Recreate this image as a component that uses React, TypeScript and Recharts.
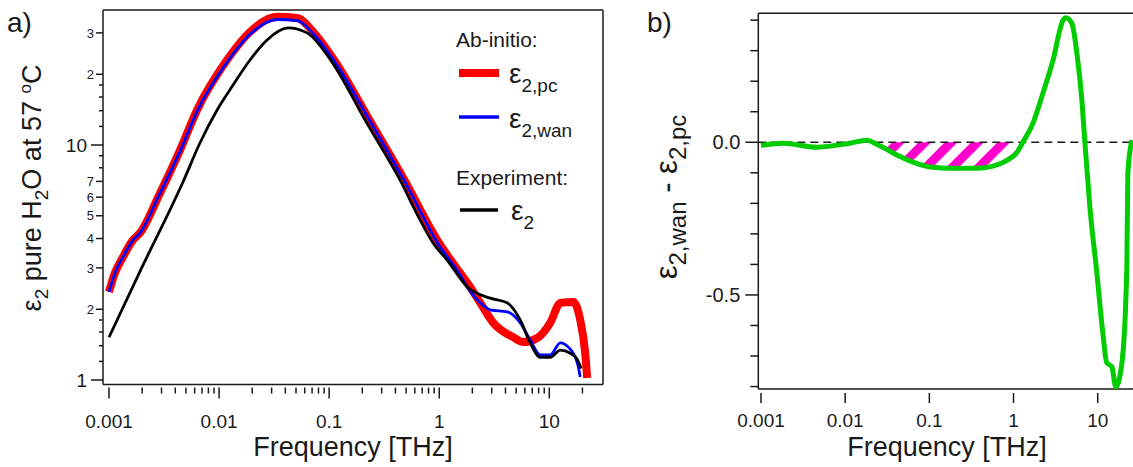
import React from 'react';
import { LineChart, ComposedChart, Line, Area, XAxis, YAxis, ReferenceLine } from 'recharts';

// panel a) — log/log, THz vs eps2
const expFreq = [0.001, 0.0019, 0.0047, 0.0067, 0.0096, 0.0134, 0.0191, 0.0273, 0.0424, 0.063, 0.1, 0.22, 0.44, 0.67, 0.88, 1.18, 1.8, 2.91, 4.15, 5.45, 6.71, 8.28, 10.2, 12.6, 15.5, 18.0, 19.5];
const expEps = [1.52, 2.88, 6.96, 10.2, 14.1, 18.0, 23.0, 28.0, 31.5, 30.0, 23.5, 12.4, 7.1, 4.8, 3.83, 3.24, 2.49, 2.23, 2.13, 1.8, 1.44, 1.25, 1.25, 1.34, 1.3, 1.22, 1.12];

const pcFreq = [0.001, 0.00113, 0.00134, 0.00165, 0.00191, 0.00291, 0.00442, 0.00631, 0.0118, 0.0191, 0.0337, 0.0512, 0.0716, 0.111, 0.241, 0.482, 0.959, 1.55, 1.91, 2.36, 3.1, 4.71, 5.8, 7.78, 10.2, 12.6, 16.5, 19.1, 21.2, 22.1];
const pcEps = [2.37, 2.85, 3.34, 3.94, 4.22, 6.25, 9.52, 14.1, 23.0, 30.3, 35.1, 34.7, 30.3, 23.0, 12.4, 7.1, 3.94, 2.85, 2.49, 2.13, 1.75, 1.52, 1.45, 1.51, 1.75, 2.13, 2.15, 1.8, 1.3, 1.02];

const wanFreq = [0.001, 0.00113, 0.00134, 0.00165, 0.00191, 0.00291, 0.00442, 0.00631, 0.0118, 0.0191, 0.0337, 0.0512, 0.0716, 0.111, 0.241, 0.482, 0.959, 1.55, 1.8, 2.36, 2.91, 4.15, 5.45, 6.71, 8.28, 10.2, 12.6, 14.9, 18.0, 19.1];
const wanEps = [2.37, 2.85, 3.34, 3.94, 4.22, 6.25, 9.4, 13.9, 22.5, 29.6, 34.2, 33.8, 29.8, 22.8, 12.4, 7.05, 3.85, 2.8, 2.49, 2.13, 1.99, 1.95, 1.75, 1.48, 1.28, 1.28, 1.44, 1.38, 1.18, 1.03];

// panel b) — eps2,wan - eps2,pc
const diffFreq = [0.001, 0.00182, 0.00462, 0.0114, 0.0182, 0.0239, 0.0281, 0.0412, 0.0638, 0.11, 0.176, 0.367, 0.569, 0.835, 1.1, 1.29, 1.7, 2.23, 2.94, 3.86, 4.19, 4.94, 5.66, 6.49, 7.05, 8.07, 9.77, 11.5, 12.8, 14.7, 16.4, 19.4, 22.2, 22.8, 25.5];
const diffVal = [-0.01, -0.003, -0.016, -0.003, 0.007, -0.007, -0.016, -0.042, -0.065, -0.082, -0.085, -0.085, -0.078, -0.059, -0.033, 0, 0.062, 0.16, 0.268, 0.399, 0.408, 0.389, 0.291, 0.137, -0.003, -0.212, -0.428, -0.624, -0.722, -0.735, -0.801, -0.722, -0.408, -0.101, 0.007];
const hatchRange = [0.028, 1.29];

const xMajorA = [0.001, 0.01, 0.1, 1, 10];
const yLabeledA = [1, 2, 3, 4, 5, 6, 7, 10, 20, 30];
const yMinorA = [1.2, 1.4, 1.6, 1.8, 8, 9, 12, 14, 16, 18];
const xTicksB = [0.001, 0.01, 0.1, 1, 10];
const yTicksB = [-0.8, -0.7, -0.6, -0.5, -0.4, -0.3, -0.2, -0.1, 0, 0.1, 0.2, 0.3, 0.4];
const yLabeledB = [0, -0.5];

const FONT = 'Arial, "Liberation Sans", Helvetica, sans-serif';
const INK = '#1a1a1a';

const xDomA: [number, number] = [10 ** -3.0545, 10 ** 1.488];
const yDomA: [number, number] = [10 ** -0.0191, 10 ** 1.5745];
const xDomB: [number, number] = [10 ** -3.032, 10 ** 1.443];
const yDomB: [number, number] = [-0.808, 0.4224];

const isPow10 = (v: number) => Math.abs(Math.log10(v) - Math.round(Math.log10(v))) < 1e-6;

const xTicksA = xMajorA.flatMap((d) => [1, 2, 3, 4, 5, 6, 7, 8, 9].map((m) => +(m * d).toPrecision(3))).filter((v) => v <= 20);

const rowsA = [
  ...expFreq.map((f, i) => ({ f, exp: expEps[i] })),
  ...pcFreq.map((f, i) => ({ f, pc: pcEps[i] })),
  ...wanFreq.map((f, i) => ({ f, wan: wanEps[i] })),
].sort((a, b) => a.f - b.f);

const rowsB = diffFreq.map((f, i) => ({
  f,
  d: diffVal[i],
  h: f >= hatchRange[0] && f <= hatchRange[1] ? diffVal[i] : null,
}));

const XTickA = (props: any) => {
  const { x, y, payload } = props;
  const major = isPow10(payload.value);
  return (
    <g>
      <line x1={x} x2={x} y1={y + 3} y2={y + (major ? 14 : 9)} stroke={INK} strokeWidth={1.5} />
      {major && (
        <text x={x} y={y + 43} textAnchor="middle" fontFamily={FONT} fontSize={19} fill={INK}>
          {String(payload.value)}
        </text>
      )}
    </g>
  );
};

const YTickA = (props: any) => {
  const { x, y, payload } = props;
  const v = payload.value;
  const major = isPow10(v);
  const labeled = yLabeledA.includes(v);
  const len = major ? 12 : labeled ? 7 : 4;
  const txt = major ? String(v) : String(v >= 10 ? v / 10 : v);
  return (
    <g>
      <line x1={x} x2={x - len} y1={y} y2={y} stroke={INK} strokeWidth={1.5} />
      {labeled && (
        <text x={x - (major ? 16 : 9)} y={y} dy="0.36em" textAnchor="end" fontFamily={FONT} fontSize={major ? 19 : 13} fill={INK}>
          {txt}
        </text>
      )}
    </g>
  );
};

const XTickB = (props: any) => {
  const { x, y, payload } = props;
  return (
    <g>
      <line x1={x} x2={x} y1={y + 4} y2={y + 14} stroke={INK} strokeWidth={1.5} />
      <text x={x} y={y + 38} textAnchor="middle" fontFamily={FONT} fontSize={19} fill={INK}>
        {String(payload.value)}
      </text>
    </g>
  );
};

const YTickB = (props: any) => {
  const { x, y, payload } = props;
  const v = payload.value;
  const labeled = yLabeledB.some((t) => Math.abs(t - v) < 1e-9);
  return (
    <g>
      <line x1={x} x2={x - (labeled ? 13 : 8)} y1={y} y2={y} stroke={INK} strokeWidth={1.5} />
      {labeled && (
        <text x={x - 18} y={y} dy="0.36em" textAnchor="end" fontFamily={FONT} fontSize={20} fill={INK}>
          {v.toFixed(1)}
        </text>
      )}
    </g>
  );
};

const Eps = ({ x, y, sub, size = 28, subSize = 19 }: { x: number; y: number; sub: string; size?: number; subSize?: number }) => (
  <text x={x} y={y} fontFamily={FONT} fill={INK} fontSize={size}>
    ε
    <tspan fontSize={subSize} dy={9}>
      {sub}
    </tspan>
  </text>
);

const frame = { stroke: INK, strokeWidth: 1.5 };

export default function App() {
  return (
    <div style={{ position: 'fixed', left: 0, top: 0, width: 1133, height: 467, overflow: 'hidden', background: '#fff' }}>
      <div style={{ position: 'absolute', left: 0, top: 0 }}>
        <LineChart width={620} height={467} data={rowsA} margin={{ top: 10, right: 17, bottom: 52.5, left: 0 }}>
          <XAxis
            dataKey="f"
            type="number"
            scale="log"
            domain={xDomA}
            allowDataOverflow
            ticks={xTicksA}
            interval={0}
            tick={XTickA}
            tickLine={false}
            axisLine={false}
            tickSize={0}
            tickMargin={0}
            height={30}
          />
          <YAxis
            type="number"
            scale="log"
            domain={yDomA}
            allowDataOverflow
            ticks={[...yLabeledA, ...yMinorA].sort((a, b) => a - b)}
            interval={0}
            tick={YTickA}
            tickLine={false}
            axisLine={frame}
            tickSize={0}
            tickMargin={0}
            width={103}
          />
          <ReferenceLine y={yDomA[1]} {...frame} ifOverflow="visible" />
          <ReferenceLine y={yDomA[0]} {...frame} ifOverflow="visible" />
          <ReferenceLine x={xDomA[1]} {...frame} ifOverflow="visible" />
          <Line dataKey="pc" type="monotone" stroke="#ff0000" strokeWidth={8} dot={false} connectNulls isAnimationActive={false} />
          <Line dataKey="wan" type="monotone" stroke="#0000ff" strokeWidth={2.8} dot={false} connectNulls isAnimationActive={false} />
          <Line dataKey="exp" type="monotone" stroke="#000000" strokeWidth={2.8} dot={false} connectNulls isAnimationActive={false} />
        </LineChart>
      </div>

      <div style={{ position: 'absolute', left: 640, top: 0 }}>
        <ComposedChart width={500} height={467} data={rowsB} margin={{ top: 13.3, right: 5, bottom: 48, left: 0 }}>
          <defs>
            <pattern id="hatch" patternUnits="userSpaceOnUse" width={18.6} height={18.6} patternTransform="rotate(45)">
              <rect x={0} y={0} width={9} height={18.6} fill="#ff00cc" />
            </pattern>
          </defs>
          <XAxis
            dataKey="f"
            type="number"
            scale="log"
            domain={xDomB}
            allowDataOverflow
            ticks={xTicksB}
            interval={0}
            tick={XTickB}
            tickLine={false}
            axisLine={false}
            tickSize={0}
            tickMargin={0}
            height={30}
          />
          <YAxis
            type="number"
            domain={yDomB}
            allowDataOverflow
            ticks={yTicksB}
            interval={0}
            tick={YTickB}
            tickLine={false}
            axisLine={frame}
            tickSize={0}
            tickMargin={0}
            width={118.3}
          />
          <ReferenceLine y={yDomB[1]} {...frame} ifOverflow="visible" />
          <ReferenceLine y={yDomB[0]} {...frame} ifOverflow="visible" />
          <Area dataKey="h" type="monotone" baseValue={0} fill="url(#hatch)" fillOpacity={1} stroke="none" isAnimationActive={false} />
          <ReferenceLine y={0} stroke={INK} strokeWidth={1.5} strokeDasharray="8 5" />
          <Line dataKey="d" type="monotone" stroke="#00cc00" strokeWidth={5} dot={false} isAnimationActive={false} />
        </ComposedChart>
      </div>

      <svg width={1133} height={467} style={{ position: 'absolute', left: 0, top: 0, pointerEvents: 'none' }}>
        <text x={7} y={32} fontFamily={FONT} fontSize={28} fill={INK}>a)</text>
        <text x={647} y={32} fontFamily={FONT} fontSize={28} fill={INK}>b)</text>

        <text x={353} y={456} textAnchor="middle" fontFamily={FONT} fontSize={27} fill={INK}>Frequency [THz]</text>
        <text x={947} y={456} textAnchor="middle" fontFamily={FONT} fontSize={27} fill={INK}>Frequency [THz]</text>

        <text transform="translate(41,188) rotate(-90)" textAnchor="middle" fontFamily={FONT} fontSize={27} fill={INK}>
          ε<tspan fontSize={19} dy={7}>2</tspan>
          <tspan dy={-7}> pure H</tspan>
          <tspan fontSize={19} dy={7}>2</tspan>
          <tspan dy={-7}>O at 57 </tspan>
          <tspan fontSize={17} dy={-10}>o</tspan>
          <tspan dy={10}>C</tspan>
        </text>
        <text transform="translate(677,197) rotate(-90)" textAnchor="middle" fontFamily={FONT} fontSize={31} fill={INK}>
          ε<tspan fontSize={24} dy={9}>2,wan</tspan>
          <tspan dy={-9}> - ε</tspan>
          <tspan fontSize={24} dy={9}>2,pc</tspan>
        </text>

        <text x={456} y={47} fontFamily={FONT} fontSize={21} fill={INK}>Ab-initio:</text>
        <line x1={459} x2={499} y1={73} y2={73} stroke="#ff0000" strokeWidth={8} />
        <Eps x={509} y={83} sub="2,pc" />
        <line x1={459} x2={499} y1={117} y2={117} stroke="#0000ff" strokeWidth={3.5} />
        <Eps x={509} y={128} sub="2,wan" />
        <text x={456} y={185} fontFamily={FONT} fontSize={21} fill={INK}>Experiment:</text>
        <line x1={460} x2={498} y1={210} y2={210} stroke="#000000" strokeWidth={3.5} />
        <Eps x={511} y={220} sub="2" />
      </svg>
    </div>
  );
}
